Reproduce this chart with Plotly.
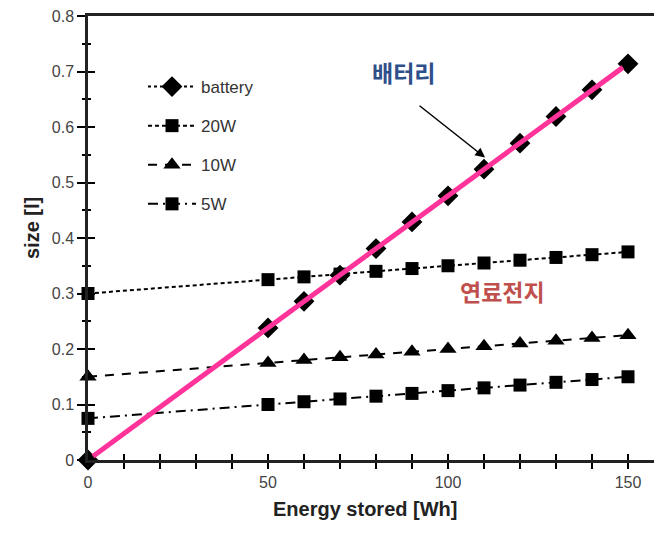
import plotly.graph_objects as go

energy = [0, 50, 60, 70, 80, 90, 100, 110, 120, 130, 140, 150]
battery = [0.0, 0.238, 0.286, 0.333, 0.381, 0.429, 0.476, 0.524, 0.571, 0.619, 0.667, 0.714]
fc_20w = [0.300, 0.325, 0.330, 0.335, 0.340, 0.345, 0.350, 0.355, 0.360, 0.365, 0.370, 0.375]
fc_10w = [0.150, 0.175, 0.180, 0.185, 0.190, 0.195, 0.200, 0.205, 0.210, 0.215, 0.220, 0.225]
fc_5w = [0.075, 0.100, 0.105, 0.110, 0.115, 0.120, 0.125, 0.130, 0.135, 0.140, 0.145, 0.150]
pink_x = [1.4, 148.6]
pink_y = [0.0067, 0.7075]

x_ticks = [0, 50, 100, 150]
y_ticks = [0, 0.1, 0.2, 0.3, 0.4, 0.5, 0.6, 0.7, 0.8]
y_tick_text = ["0", "0.1", "0.2", "0.3", "0.4", "0.5", "0.6", "0.7", "0.8"]

# page body has an 8px margin; figure coordinates are screen coordinates minus 8
OFF = 8
W, H = 662 - OFF, 538 - OFF
L, T = 88 - OFF, 16 - OFF
B = H - (460 - OFF)
R = 0
PW, PH = W - L - R, H - T - B
px_per_x = 3.6
x_max = PW / px_per_x
y_max = 0.8001

def px(sx):
    return (sx - OFF - L) / PW

def py(sy):
    return 1 - (sy - OFF - T) / PH

fig = go.Figure()

series = [
    ("battery", battery, "dot", "diamond", 16),
    ("20W", fc_20w, "4px,3px", "square", 13),
    ("10W", fc_10w, "9px,8px", "triangle-up", 15),
    ("5W", fc_5w, "10px,5px,2px,5px", "square", 13),
]
for name, ys, dash, sym, size in series:
    fig.add_trace(go.Scatter(
        x=energy, y=ys, name=name, mode="lines+markers",
        line=dict(color="black", width=2, dash=dash),
        marker=dict(symbol=sym, size=size, color="black"),
        cliponaxis=False, legendgroup=name,
    ))

fig.add_trace(go.Scatter(
    x=pink_x, y=pink_y, mode="lines", showlegend=False,
    line=dict(color="#FF3399", width=5), cliponaxis=False,
))

axis_font = dict(family="Liberation Sans, Arial", size=16, color="#444")

fig.update_layout(
    width=W, height=H,
    margin=dict(l=L, r=R, t=T, b=B),
    paper_bgcolor="white", plot_bgcolor="white",
    showlegend=True,
    legend=dict(
        x=px(143), y=py(69),
        xanchor="left", yanchor="top",
        bgcolor="rgba(0,0,0,0)",
        font=dict(family="Liberation Sans, Arial", size=17, color="#333"),
        tracegroupgap=14, itemwidth=48,
    ),
    xaxis=dict(
        range=[0, x_max], showgrid=False, zeroline=False,
        showline=True, linecolor="#222", linewidth=2.5, mirror=True,
        tickmode="array", tickvals=x_ticks, ticktext=[str(v) for v in x_ticks],
        ticks="outside", ticklen=6, tickwidth=1.5, tickcolor="black",
        minor=dict(dtick=10, ticks="outside", ticklen=6, tickwidth=1.5, tickcolor="black", tick0=0),
        tickfont=axis_font, ticklabeloverflow="allow",
    ),
    yaxis=dict(
        range=[0, y_max], showgrid=False, zeroline=False,
        showline=True, linecolor="#222", linewidth=2.5,
        tickmode="array", tickvals=y_ticks, ticktext=y_tick_text,
        ticks="outside", ticklen=8, tickwidth=2, tickcolor="black",
        minor=dict(dtick=0.05, ticks="outside", ticklen=3, tickwidth=1.5, tickcolor="black", tick0=0),
        tickfont=axis_font, ticklabeloverflow="allow",
    ),
    xaxis2=dict(
        range=[0, x_max], overlaying="x", showgrid=False, zeroline=False,
        showticklabels=False, tickmode="array", tickvals=x_ticks,
        ticks="inside", ticklen=6, tickwidth=1.5, tickcolor="black",
        minor=dict(dtick=10, ticks="inside", ticklen=6, tickwidth=1.5, tickcolor="black", tick0=0),
        side="bottom", anchor="y",
    ),
    yaxis2=dict(
        range=[0, y_max], overlaying="y", showgrid=False, zeroline=False,
        showticklabels=False, tickmode="array", tickvals=y_ticks,
        ticks="inside", ticklen=7, tickwidth=2, tickcolor="black",
        minor=dict(dtick=0.05, ticks="inside", ticklen=3, tickwidth=1.5, tickcolor="black", tick0=0),
        side="left", anchor="x",
    ),
)
fig.add_trace(go.Scatter(x=[None], y=[None], xaxis="x2", yaxis="y2", showlegend=False, hoverinfo="skip"))

fig.add_annotation(
    x=110.3, y=0.545, ax=-67, ay=-53, text="", showarrow=True,
    arrowhead=2, arrowsize=1.3, arrowwidth=1.5, arrowcolor="black",
)
fig.add_annotation(
    x=87.5, y=0.70, text="<b>배터리</b>", showarrow=False,
    font=dict(family="Noto Sans CJK KR", size=23, color="#2F4F8A"),
)
fig.add_annotation(
    x=115, y=0.305, text="<b>연료전지</b>", showarrow=False,
    font=dict(family="Noto Sans CJK KR", size=23, color="#C0504D"),
)
fig.add_annotation(
    xref="paper", yref="paper", x=px(365), y=py(522),
    text="<b>Energy stored [Wh]</b>", showarrow=False,
    font=dict(family="Liberation Sans, Arial", size=20, color="#222"),
)
fig.add_annotation(
    xref="paper", yref="paper", x=px(19), y=py(228),
    text="<b>size [l]</b>", showarrow=False, textangle=-90,
    font=dict(family="Liberation Sans, Arial", size=20, color="#222"),
)

fig.write_html("out.html")
